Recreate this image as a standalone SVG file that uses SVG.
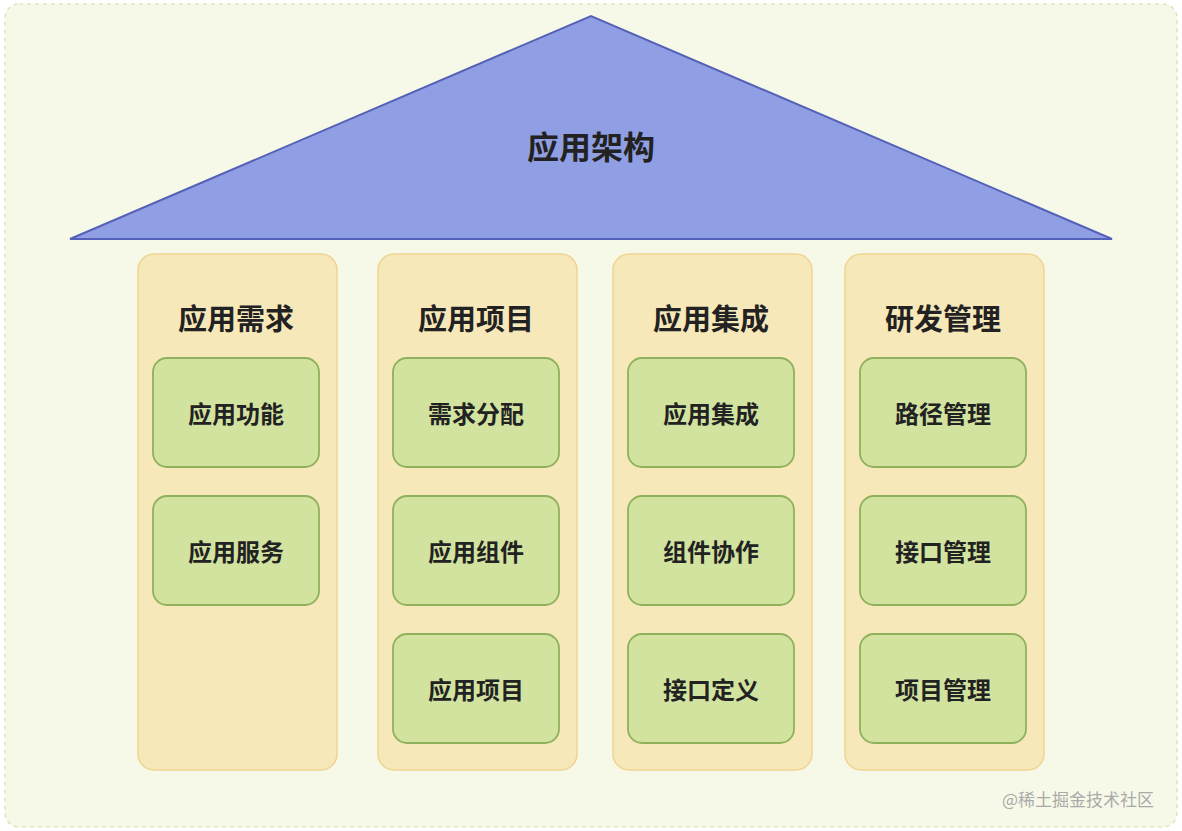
<svg xmlns="http://www.w3.org/2000/svg" width="1182" height="831" viewBox="0 0 1182 831">
<style>
text{font-family:"Noto Sans CJK SC","Noto Sans",sans-serif;font-weight:bold;fill:#222;text-anchor:middle;dominant-baseline:central}
.col{fill:#f7e8b9;stroke:#f0d490;stroke-width:1.5}
.box{fill:#d2e3a0;stroke:#8fb15c;stroke-width:1.8}
.h{font-size:29px}
.b{font-size:24px}
</style>
<rect x="5" y="4" width="1172" height="823" rx="14" fill="#f6f9e7" stroke="#d6e0a8" stroke-width="1.2" stroke-dasharray="4 4"/>
<g id="roof"><polygon points="70,239 591,16 1112,239" fill="#909fe3" stroke="#5461b8" stroke-width="2"/>
<text x="591" y="145" style="font-size:32px">应用架构</text></g>
<g id="col1"><rect class="col" x="138" y="254" width="199" height="516" rx="16"/><text class="h" x="236" y="317">应用需求</text>
<rect class="box" x="153" y="358" width="166" height="109" rx="14"/><text class="b" x="236" y="412">应用功能</text>
<rect class="box" x="153" y="496" width="166" height="109" rx="14"/><text class="b" x="236" y="550">应用服务</text></g>
<g id="col2"><rect class="col" x="378" y="254" width="199" height="516" rx="16"/><text class="h" x="476" y="317">应用项目</text>
<rect class="box" x="393" y="358" width="166" height="109" rx="14"/><text class="b" x="476" y="412">需求分配</text>
<rect class="box" x="393" y="496" width="166" height="109" rx="14"/><text class="b" x="476" y="550">应用组件</text>
<rect class="box" x="393" y="634" width="166" height="109" rx="14"/><text class="b" x="476" y="688">应用项目</text></g>
<g id="col3"><rect class="col" x="613" y="254" width="199" height="516" rx="16"/><text class="h" x="711" y="317">应用集成</text>
<rect class="box" x="628" y="358" width="166" height="109" rx="14"/><text class="b" x="711" y="412">应用集成</text>
<rect class="box" x="628" y="496" width="166" height="109" rx="14"/><text class="b" x="711" y="550">组件协作</text>
<rect class="box" x="628" y="634" width="166" height="109" rx="14"/><text class="b" x="711" y="688">接口定义</text></g>
<g id="col4"><rect class="col" x="845" y="254" width="199" height="516" rx="16"/><text class="h" x="943" y="317">研发管理</text>
<rect class="box" x="860" y="358" width="166" height="109" rx="14"/><text class="b" x="943" y="412">路径管理</text>
<rect class="box" x="860" y="496" width="166" height="109" rx="14"/><text class="b" x="943" y="550">接口管理</text>
<rect class="box" x="860" y="634" width="166" height="109" rx="14"/><text class="b" x="943" y="688">项目管理</text></g>
<g id="connectors"/>
<text x="1078" y="798" style="font-size:17px;font-weight:normal;fill:#aaa">@稀土掘金技术社区</text>
</svg>
